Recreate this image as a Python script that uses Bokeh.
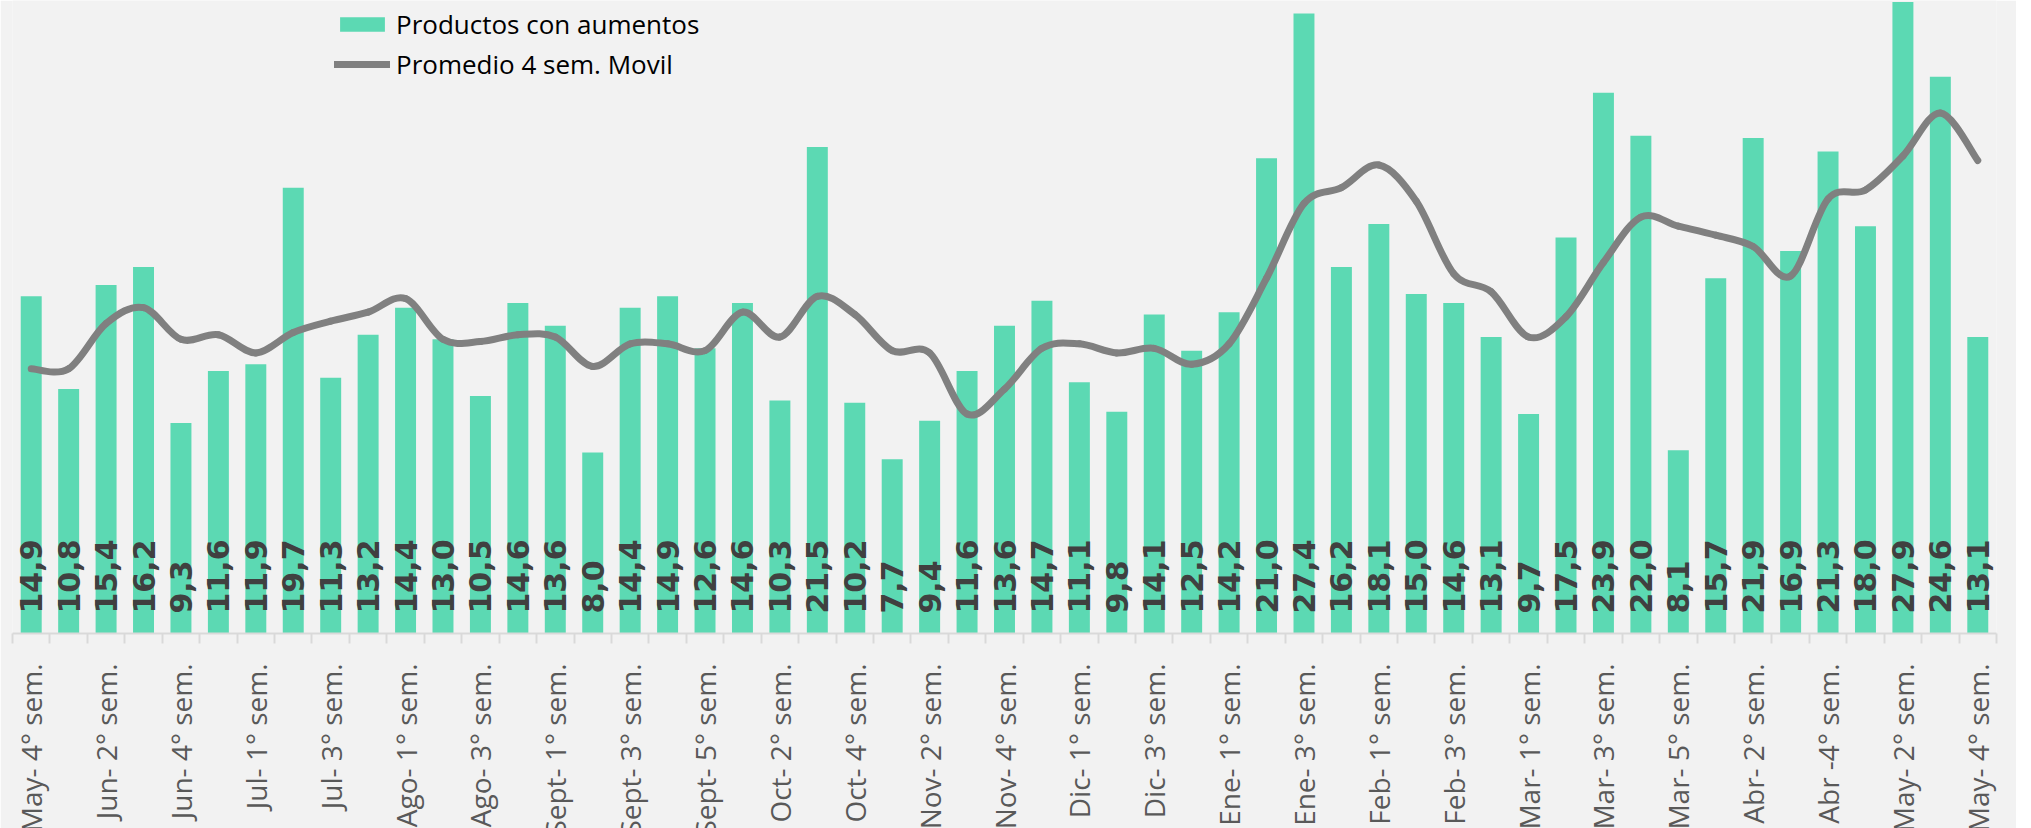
import numpy as np
from math import pi
from bokeh.plotting import figure
from bokeh.models import Range1d, FixedTicker, Legend, LegendItem, ColumnDataSource
from bokeh.core.properties import value
from bokeh.embed import file_html
from bokeh.resources import INLINE

categories = [
    "May- 4° sem.", "Jun- 1° sem.", "Jun- 2° sem.", "Jun- 3° sem.", "Jun- 4° sem.",
    "Jun- 5° sem.", "Jul- 1° sem.", "Jul- 2° sem.", "Jul- 3° sem.", "Jul- 4° sem.",
    "Ago- 1° sem.", "Ago- 2° sem.", "Ago- 3° sem.", "Ago- 4° sem.", "Sept- 1° sem.",
    "Sept- 2° sem.", "Sept- 3° sem.", "Sept- 4° sem.", "Sept- 5° sem.", "Oct- 1° sem.",
    "Oct- 2° sem.", "Oct- 3° sem.", "Oct- 4° sem.", "Nov- 1° sem.", "Nov- 2° sem.",
    "Nov- 3° sem.", "Nov- 4° sem.", "Nov- 5° sem.", "Dic- 1° sem.", "Dic- 2° sem.",
    "Dic- 3° sem.", "Dic- 4° sem.", "Ene- 1° sem.", "Ene- 2° sem.", "Ene- 3° sem.",
    "Ene- 4° sem.", "Feb- 1° sem.", "Feb- 2° sem.", "Feb- 3° sem.", "Feb- 4° sem.",
    "Mar- 1° sem.", "Mar- 2° sem.", "Mar- 3° sem.", "Mar- 4° sem.", "Mar- 5° sem.",
    "Abr- 1° sem.", "Abr- 2° sem.", "Abr- 3° sem.", "Abr -4° sem.", "May- 1° sem.",
    "May- 2° sem.", "May- 3° sem.", "May- 4° sem.",
]

productos = [
    14.9, 10.8, 15.4, 16.2, 9.3, 11.6, 11.9, 19.7, 11.3, 13.2,
    14.4, 13.0, 10.5, 14.6, 13.6, 8.0, 14.4, 14.9, 12.6, 14.6,
    10.3, 21.5, 10.2, 7.7, 9.4, 11.6, 13.6, 14.7, 11.1, 9.8,
    14.1, 12.5, 14.2, 21.0, 27.4, 16.2, 18.1, 15.0, 14.6, 13.1,
    9.7, 17.5, 23.9, 22.0, 8.1, 15.7, 21.9, 16.9, 21.3, 18.0,
    27.9, 24.6, 13.1,
]

promedio = [
    11.7, 11.7, 13.7, 14.4, 13.0, 13.2, 12.4, 13.3, 13.8, 14.2,
    14.8, 13.0, 12.9, 13.2, 13.1, 11.8, 12.8, 12.8, 12.5, 14.2,
    13.1, 14.9, 14.1, 12.5, 12.4, 9.7, 10.8, 12.6, 12.8, 12.4,
    12.6, 11.9, 12.8, 15.7, 19.0, 19.7, 20.7, 19.1, 15.9, 15.1,
    13.1, 14.0, 16.4, 18.4, 18.0, 17.6, 17.1, 15.8, 19.2, 19.6,
    21.1, 23.0, 20.9,
]

series_names = ["Productos con aumentos", "Promedio 4 sem. Movil"]

BG = "#f2f2f2"
BAR = "#5cd9b3"
LINE = "#808080"

n = len(categories)
xs = list(range(n))
labels = [f"{v:.1f}".replace(".", ",") for v in productos]

FRAME_H = 633
PX_PER_UNIT = 22.63

p = figure(
    frame_width=1984, frame_height=FRAME_H,
    x_range=Range1d(-0.5, n - 0.5), y_range=Range1d(0, FRAME_H / PX_PER_UNIT),
    output_backend="svg", toolbar_location=None, y_axis_location=None,
    min_border_left=12, min_border_right=20, min_border_top=0, min_border_bottom=0,
    background_fill_color=BG, border_fill_color=BG, outline_line_color=None,
)
p.xgrid.visible = False
p.ygrid.visible = False

src = ColumnDataSource(dict(x=xs, top=productos, label=labels))
r_bar = p.vbar(x="x", top="top", width=0.56, source=src,
               fill_color=BAR, line_color=None)

# smoothed line (Catmull-Rom style bezier segments through the data points)
px = np.array(xs, dtype=float)
py = np.array(promedio, dtype=float)
xpad = np.concatenate([[px[0]], px, [px[-1]]])
ypad = np.concatenate([[py[0]], py, [py[-1]]])
t = 1.0 / 6.0
cx0 = xpad[1:n] + (xpad[2:n + 1] - xpad[0:n - 1]) * t
cy0 = ypad[1:n] + (ypad[2:n + 1] - ypad[0:n - 1]) * t
cx1 = xpad[2:n + 1] - (xpad[3:n + 2] - xpad[1:n]) * t
cy1 = ypad[2:n + 1] - (ypad[3:n + 2] - ypad[1:n]) * t
r_line = p.bezier(x0=px[:-1], y0=py[:-1], x1=px[1:], y1=py[1:],
                  cx0=cx0, cy0=cy0, cx1=cx1, cy1=cy1,
                  line_color=LINE, line_width=7, line_cap="round")
r_leg_line = p.line(x=[float("nan")], y=[float("nan")], line_color=LINE,
                    line_width=7, line_cap="round")

p.text(x="x", y=0, text="label", source=src, angle=pi / 2,
       text_align="left", text_baseline="middle", y_offset=-20,
       text_font=value("DejaVu Sans"), text_font_style="bold",
       text_font_size="30px", text_color="#404040")

even = list(range(0, n, 2))
ax = p.xaxis[0]
ax.ticker = FixedTicker(ticks=even, minor_ticks=[i - 0.5 for i in range(n + 1)])
ax.major_label_overrides = {i: categories[i] for i in even}
ax.major_label_orientation = pi / 2
ax.major_label_text_font = "Open Sans"
ax.major_label_text_font_size = "28px"
ax.major_label_text_color = "#595959"
ax.major_label_standoff = 20
ax.major_tick_line_color = None
ax.major_tick_out = 0
ax.major_tick_in = 0
ax.minor_tick_line_color = "#d9d9d9"
ax.minor_tick_line_width = 2
ax.minor_tick_out = 10
ax.minor_tick_in = 0
ax.axis_line_color = "#d9d9d9"
ax.axis_line_width = 2

legend = Legend(
    items=[LegendItem(label=series_names[0], renderers=[r_bar]),
           LegendItem(label=series_names[1], renderers=[r_leg_line])],
    location=(322, FRAME_H - 82),
    glyph_width=56, glyph_height=18, label_standoff=6, spacing=4,
    padding=0, margin=0,
    label_text_font="Open Sans", label_text_font_size="26px",
    label_text_color="#000000",
    background_fill_alpha=0, border_line_alpha=0,
)
p.add_layout(legend)

open("out.html", "w").write(file_html(p, INLINE))
